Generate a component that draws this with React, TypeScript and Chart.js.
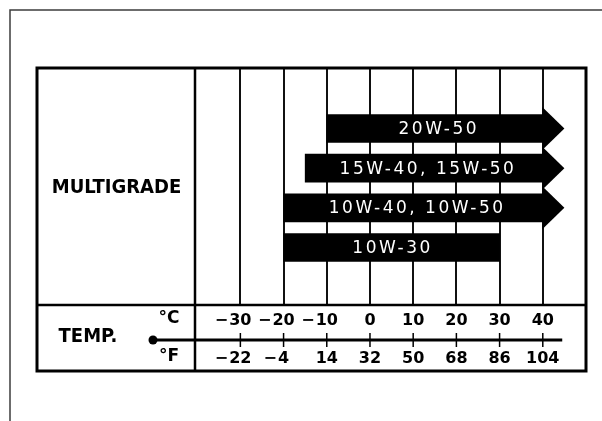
import React, { useEffect, useRef } from 'react';
import { Chart, registerables } from 'chart.js';

Chart.register(...registerables);

// ---- data ----
const grades = ['20W-50', '15W-40, 15W-50', '10W-40, 10W-50', '10W-30'];
const lowTempsC = [-10, -15, -20, -20];
const highTempsC = [40, 40, 40, 30];
const openEnded = [true, true, true, false];
const celsiusTicks = [-30, -20, -10, 0, 10, 20, 30, 40];
const fahrenheitLabels = ['-22', '-4', '14', '32', '50', '68', '86', '104'];
const rowTitle = 'MULTIGRADE';
const tempTitle = 'TEMP.';
const celsiusUnit = '°C';
const fahrenheitUnit = '°F';

// ---- layout / style constants ----
const W = 602;
const H = 421;
const X_MIN = -40.5;
const X_MAX = 50;
const ARROW_LEN_C = 5; // arrow head length in degrees
const TEMP_LINE_END_C = 44.5;
const TABLE_LEFT = 37;
const TABLE_BOTTOM = 371;
const FRAME = 10;
const COND = '"DejaVu Sans Condensed", "DejaVu Sans", sans-serif';

function drawSigned(ctx: CanvasRenderingContext2D, text: string, cx: number, cy: number) {
  const neg = text.startsWith('-');
  const digits = neg ? text.slice(1) : text;
  ctx.textAlign = 'center';
  ctx.fillText(digits, cx, cy);
  if (neg) {
    const w = ctx.measureText(digits).width;
    ctx.textAlign = 'right';
    ctx.fillText('\u2212', cx - w / 2 - 1, cy);
  }
}

const tablePlugin = {
  id: 'oilTable',
  afterDatasetsDraw(chart: any) {
    const { ctx, scales } = chart;
    const x = scales.x;
    const meta = chart.getDatasetMeta(0);
    ctx.save();
    meta.data.forEach((bar: any, i: number) => {
      const p = bar.getProps(['x', 'y', 'base', 'height'], true);
      if (openEnded[i]) {
        const xEnd = x.getPixelForValue(highTempsC[i]);
        const xTip = x.getPixelForValue(highTempsC[i] + ARROW_LEN_C);
        const half = p.height / 2 + 7.5;
        ctx.fillStyle = '#000';
        ctx.beginPath();
        ctx.moveTo(xEnd - 0.5, p.y - half);
        ctx.lineTo(xTip, p.y);
        ctx.lineTo(xEnd - 0.5, p.y + half);
        ctx.closePath();
        ctx.fill();
      }
      const l = x.getPixelForValue(lowTempsC[i]);
      const r = x.getPixelForValue(highTempsC[i]);
      ctx.fillStyle = '#fff';
      ctx.font = '17px "DejaVu Sans", sans-serif';
      (ctx as any).letterSpacing = '2.5px';
      ctx.textAlign = 'center';
      ctx.textBaseline = 'middle';
      ctx.fillText(grades[i], (l + r) / 2 + (openEnded[i] ? 4 : 1), p.y + 1);
    });
    ctx.restore();
  },
  afterDraw(chart: any) {
    const { ctx, chartArea, scales } = chart;
    const x = scales.x;
    const { left, right, top, bottom } = chartArea;
    ctx.save();
    // outer frame
    ctx.strokeStyle = '#3c3c3c';
    ctx.lineWidth = 1.5;
    ctx.beginPath();
    ctx.moveTo(FRAME, H);
    ctx.lineTo(FRAME, FRAME);
    ctx.lineTo(W, FRAME);
    ctx.stroke();

    // table
    ctx.strokeStyle = '#000';
    ctx.lineWidth = 3;
    ctx.strokeRect(TABLE_LEFT, top, right - TABLE_LEFT, TABLE_BOTTOM - top);
    ctx.lineWidth = 2.5;
    ctx.beginPath();
    ctx.moveTo(TABLE_LEFT, bottom);
    ctx.lineTo(right, bottom);
    ctx.moveTo(left, top);
    ctx.lineTo(left, TABLE_BOTTOM);
    ctx.stroke();

    // titles
    ctx.fillStyle = '#000';
    ctx.textBaseline = 'middle';
    ctx.textAlign = 'center';
    ctx.font = 'bold 20px ' + COND;
    ctx.fillText(rowTitle, (TABLE_LEFT + left) / 2 + 0.5, 188);
    ctx.fillText(tempTitle, 88, 337);
    ctx.font = 'bold 17px "DejaVu Sans", sans-serif';
    ctx.fillText(celsiusUnit, 169, 319);
    ctx.fillText(fahrenheitUnit, 169, 357);

    // temperature line
    const lineY = 340;
    const x0 = 153;
    const x1 = x.getPixelForValue(TEMP_LINE_END_C);
    ctx.lineWidth = 3;
    ctx.beginPath();
    ctx.moveTo(x0, lineY);
    ctx.lineTo(x1, lineY);
    ctx.stroke();
    ctx.beginPath();
    ctx.arc(x0, lineY, 4.5, 0, Math.PI * 2);
    ctx.fill();

    ctx.lineWidth = 1.5;
    ctx.font = 'bold 16px "DejaVu Sans", sans-serif';
    celsiusTicks.forEach((c, i) => {
      const px = x.getPixelForValue(c);
      ctx.beginPath();
      ctx.moveTo(px, lineY - 7);
      ctx.lineTo(px, lineY + 7);
      ctx.stroke();
      drawSigned(ctx, String(c), px, 321);
      drawSigned(ctx, fahrenheitLabels[i], px, 358.5);
    });
    ctx.restore();
  },
};

export default function App() {
  const ref = useRef<HTMLCanvasElement | null>(null);
  useEffect(() => {
    if (!ref.current) return;
    const chart = new Chart(ref.current, {
      type: 'bar',
      data: {
        datasets: [
          {
            label: 'Multigrade',
            data: grades.map((g, i) => ({ x: [lowTempsC[i], highTempsC[i]], y: i })) as any,
            backgroundColor: '#000',
            borderWidth: 0,
            barThickness: 28,
          },
        ],
      },
      options: {
        indexAxis: 'y',
        animation: false,
        responsive: false,
        layout: { padding: { left: 195, right: W - 586, top: 68, bottom: H - 305 } },
        plugins: { legend: { display: false }, tooltip: { enabled: false } },
        scales: {
          x: {
            type: 'linear',
            min: X_MIN,
            max: X_MAX,
            offset: false,
            afterBuildTicks: (s: any) => {
              s.ticks = celsiusTicks.map((v) => ({ value: v }));
            },
            ticks: { display: false },
            grid: { color: '#111', lineWidth: 2, drawTicks: false, offset: false },
            border: { display: false },
          },
          y: {
            type: 'linear',
            min: -1.525,
            max: 4.45,
            reverse: true,
            offset: false,
            display: false,
          },
        },
      } as any,
      plugins: [tablePlugin],
    });
    return () => chart.destroy();
  }, []);
  return (
    <div style={{ position: 'absolute', left: 0, top: 0, width: W, height: H, background: '#fff' }}>
      <canvas ref={ref} width={W} height={H} style={{ display: 'block' }} />
    </div>
  );
}
